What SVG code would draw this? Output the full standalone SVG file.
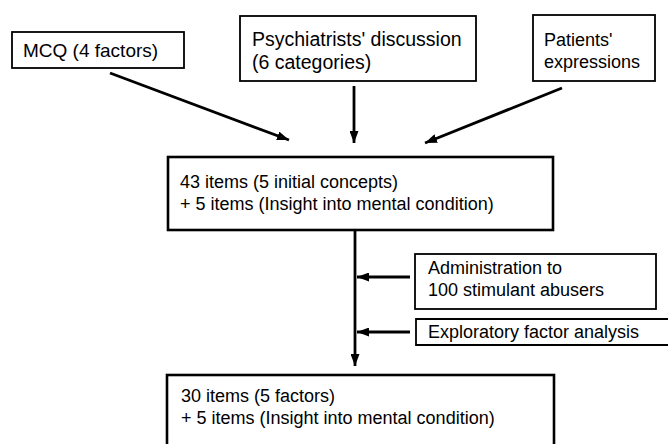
<svg xmlns="http://www.w3.org/2000/svg" width="668" height="444" viewBox="0 0 668 444">
<defs>
<style>
.box{fill:#fff;stroke:#000;stroke-width:1.8}
.bold{stroke-width:2.6}
.t{font-family:"Liberation Sans",Arial,sans-serif;font-size:18px;fill:#000}
.big{font-size:19.5px}
.c{stroke:#000;stroke-width:2.8;fill:none;marker-end:url(#ah)}
</style>
<marker id="ah" markerUnits="userSpaceOnUse" markerWidth="12" markerHeight="9" refX="12" refY="4.5" orient="auto">
<path d="M0,0 L12,4.5 L0,9 Z" fill="#000"/>
</marker>
</defs>
<rect width="668" height="444" fill="#fff"/>
<g id="mcq">
<rect class="box" x="12" y="32" width="172" height="36"/>
<text class="t" x="23" y="57" style="font-size:19px">MCQ (4 factors)</text>
</g>
<g id="psych">
<rect class="box" x="240" y="16" width="236" height="65"/>
<text class="t big" x="252" y="46">Psychiatrists' discussion</text>
<text class="t big" x="252" y="69">(6 categories)</text>
</g>
<g id="patients">
<rect class="box" x="533" y="15" width="122" height="66"/>
<text class="t" x="544" y="46">Patients'</text>
<text class="t" x="544" y="68">expressions</text>
</g>
<g id="items43">
<rect class="box bold" x="168" y="157" width="385" height="73"/>
<text class="t" x="180" y="188">43 items (5 initial concepts)</text>
<text class="t" x="180" y="210">+ 5 items (Insight into mental condition)</text>
</g>
<g id="admin">
<rect class="box" x="415" y="254" width="241" height="55"/>
<text class="t" x="428" y="274">Administration to</text>
<text class="t" x="428" y="296">100 stimulant abusers</text>
</g>
<g id="efa">
<path class="box" d="M680,319 H416 V345 H680"/>
<text class="t" x="428" y="338">Exploratory factor analysis</text>
</g>
<g id="items30">
<rect class="box bold" x="167" y="375" width="387" height="80"/>
<text class="t" x="181" y="402">30 items (5 factors)</text>
<text class="t" x="181" y="424">+ 5 items (Insight into mental condition)</text>
</g>
<g id="connectors">
<line class="c" x1="110" y1="73" x2="289" y2="140"/>
<line class="c" x1="354" y1="86" x2="354" y2="143"/>
<line class="c" x1="562" y1="88" x2="425" y2="143"/>
<line class="c" x1="355" y1="231" x2="355" y2="366"/>
<line class="c" x1="410" y1="277" x2="357" y2="277"/>
<line class="c" x1="410" y1="332" x2="357" y2="332"/>
</g>
</svg>
